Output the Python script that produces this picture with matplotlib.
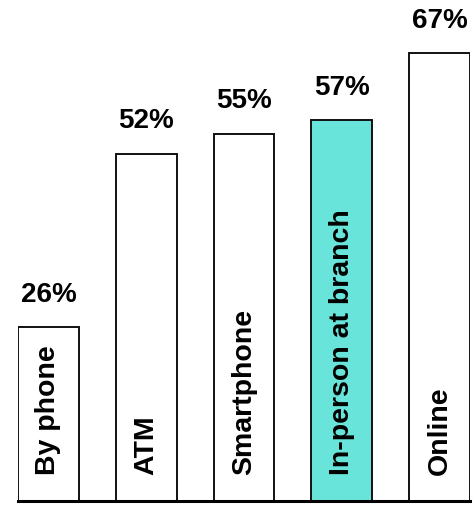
import matplotlib
matplotlib.use("Agg")
import matplotlib.pyplot as plt

categories = ["By phone", "ATM", "Smartphone", "In-person at branch", "Online"]
values = [26, 52, 55, 57, 67]
value_labels = ["26%", "52%", "55%", "57%", "67%"]
highlight = "In-person at branch"

fig = plt.figure(figsize=(4.73, 5.05), dpi=100)
ax = fig.add_axes([18/473, 4/505, (470-18)/473, 1 - 4/505])

colors = ["#68E4DA" if c == highlight else "white" for c in categories]
x = list(range(len(categories)))
bars = ax.bar(x, values, width=0.622, color=colors, edgecolor="#111111", linewidth=1.4)

font = ["Liberation Sans", "DejaVu Sans"]
for xi, v, lab, cat in zip(x, values, value_labels, categories):
    ax.annotate(lab, (xi, v), xytext=(0, 14), textcoords="offset points",
                ha="center", va="bottom", fontsize=20, fontweight="bold", family=font)
    ax.text(xi, 3.9, cat, rotation=90, ha="center", va="bottom",
            fontsize=20.5, fontweight="bold", family=font)

ax.set_xlim(-0.311, 4.311)
ax.set_ylim(0, 75)
for s in ["top", "right", "left"]:
    ax.spines[s].set_visible(False)
ax.spines["bottom"].set_linewidth(2.2)
ax.spines["bottom"].set_color("black")
ax.set_xticks([])
ax.set_yticks([])
ax.patch.set_alpha(0)

fig.savefig("out.png", dpi=100)
